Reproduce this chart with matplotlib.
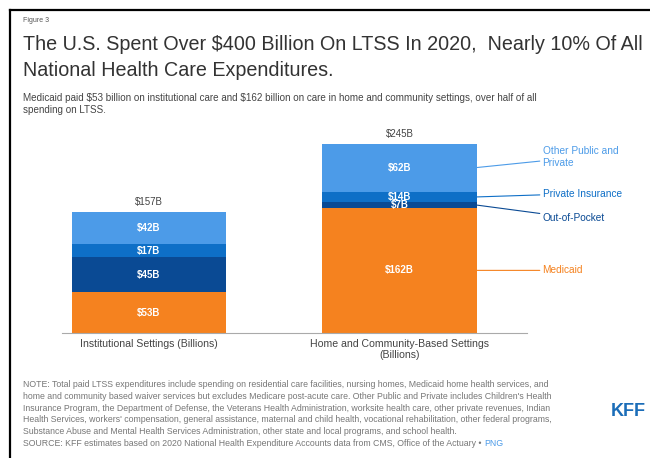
import matplotlib.pyplot as plt
import numpy as np

plt.rcParams["font.family"] = ["Liberation Sans", "DejaVu Sans"]

# data (billions)
settings = ["Institutional Settings (Billions)",
            "Home and Community-Based Settings\n(Billions)"]
totals = ["$157B", "$245B"]
series = ["Medicaid", "Out-of-Pocket", "Private Insurance", "Other Public and\nPrivate"]
medicaid = [53, 162]
out_of_pocket = [45, 7]
private_ins = [17, 14]
other_public = [42, 62]

colors = ["#F5821F", "#0A4A94", "#0E6FC7", "#4C9BE8"]
text_color = "#333333"
note_color = "#777777"

fig = plt.figure(figsize=(6.5, 4.58), dpi=100)

# black frame at top and left, as in the screenshot
fig.add_artist(plt.Line2D([10 / 650, 10 / 650], [0, 1 - 10 / 458], color="black", lw=1.6))
fig.add_artist(plt.Line2D([10 / 650, 1], [1 - 10 / 458, 1 - 10 / 458], color="black", lw=1.6))

fig.text(23 / 650, 1 - 20 / 458, "Figure 3", fontsize=5, color="#555555", va="center")
fig.text(23 / 650, 1 - 45 / 458,
         "The U.S. Spent Over \\$400 Billion On LTSS In 2020,  Nearly 10% Of All",
         fontsize=14.2, color=text_color, va="center")
fig.text(23 / 650, 1 - 70 / 458, "National Health Care Expenditures.",
         fontsize=14.2, color=text_color, va="center")
fig.text(23 / 650, 1 - 104 / 458,
         "Medicaid paid \\$53 billion on institutional care and \\$162 billion on care in home and "
         "community settings, over half of all\nspending on LTSS.",
         fontsize=7.1, color="#444444", va="center", linespacing=1.35)

ax = fig.add_axes([62 / 650, 125 / 458, 465 / 650, 201 / 458])
x = np.arange(len(settings))
width = 0.614
layers = [medicaid, out_of_pocket, private_ins, other_public]
bottom = np.zeros(len(settings))
mids = []
for vals, col in zip(layers, colors):
    vals = np.array(vals, dtype=float)
    ax.bar(x, vals, width, bottom=bottom, color=col, edgecolor="none")
    mids.append(bottom + vals / 2)
    for xi, b, v in zip(x, bottom, vals):
        ax.text(xi, b + v / 2, f"\\${int(v)}B", ha="center", va="center",
                color="white", fontsize=7, fontweight="bold")
    bottom = bottom + vals

for xi, tot, lab in zip(x, bottom, totals):
    ax.text(xi, tot + 6, lab.replace("$", "\\$"), ha="center", va="bottom",
            fontsize=7, color="#444444")

# right-hand series labels with leader lines
label_y = [81, 148.8, 180.4, 227.7]
x_edge = x[-1] + width / 2
for name, col, m, ly in zip(series, colors, mids, label_y):
    ax.annotate(name, xy=(x_edge, m[-1]), xytext=(1.57, ly),
                ha="left", va="center", fontsize=7.3, color=col,
                annotation_clip=False,
                arrowprops=dict(arrowstyle="-", color=col, lw=0.8,
                                shrinkA=0, shrinkB=0))

ax.set_xlim(-0.345, 1.508)
ax.set_ylim(0, 260)
ax.set_xticks(x)
ax.set_xticklabels(settings, fontsize=7.6, color="#444444")
ax.tick_params(axis="x", length=0, pad=4)
ax.set_yticks([])
for s in ["top", "right", "left"]:
    ax.spines[s].set_visible(False)
ax.spines["bottom"].set_color("#AAAAAA")
ax.spines["bottom"].set_linewidth(0.8)

note = ("NOTE: Total paid LTSS expenditures include spending on residential care facilities, nursing homes, "
        "Medicaid home health services, and\n"
        "home and community based waiver services but excludes Medicare post-acute care. Other Public and "
        "Private includes Children's Health\n"
        "Insurance Program, the Department of Defense, the Veterans Health Administration, worksite health care, "
        "other private revenues, Indian\n"
        "Health Services, workers' compensation, general assistance, maternal and child health, vocational "
        "rehabilitation, other federal programs,\n"
        "Substance Abuse and Mental Health Services Administration, other state and local programs, and school health.")
fig.text(23 / 650, 1 - 380 / 458, note, fontsize=6.3, color=note_color,
         va="top", linespacing=1.4)
src = fig.text(23 / 650, 1 - 443 / 458,
               "SOURCE: KFF estimates based on 2020 National Health Expenditure Accounts data "
               "from CMS, Office of the Actuary \u2022 ",
               fontsize=6.3, color=note_color, va="center")
ax.annotate("PNG", xy=(1, 0.5), xycoords=src, ha="left", va="center",
            fontsize=6.3, color="#4C9BE8", annotation_clip=False)

fig.text(628 / 650, 1 - 412 / 458, "KFF", fontsize=13, fontweight="bold",
         color="#1B6DB8", ha="center", va="center")

fig.savefig("out.png", dpi=100)
